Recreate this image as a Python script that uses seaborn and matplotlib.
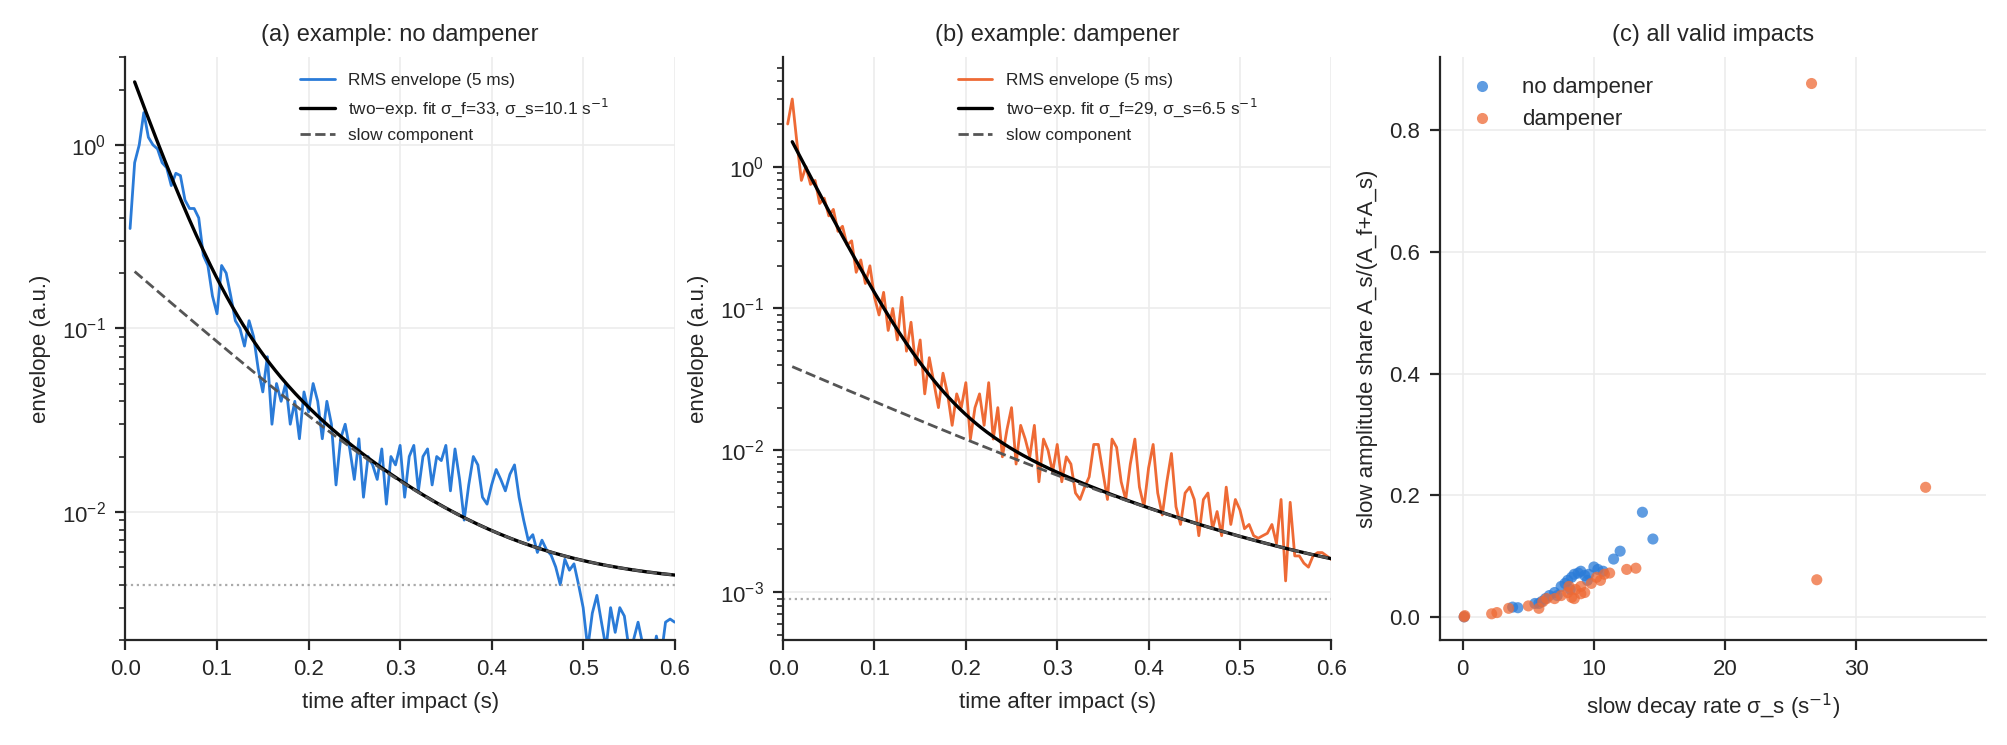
import numpy as np
import matplotlib
matplotlib.use("Agg")
import matplotlib.pyplot as plt
import seaborn as sns
import pandas as pd

sns.set_style("ticks")
plt.rcParams['font.family'] = ['Liberation Sans', 'DejaVu Sans']

t_env = np.round(np.arange(1, 121) * 0.005, 3)
env_a = [0.35,0.8,1.0,1.5,1.1,1.0,0.95,0.8,0.75,0.6,0.7,0.68,0.5,0.45,0.45,0.4,0.25,0.22,0.15,0.12,
         0.22,0.2,0.15,0.11,0.1,0.08,0.11,0.09,0.06,0.045,0.07,0.03,0.05,0.04,0.05,0.03,0.04,0.025,0.045,0.035,
         0.05,0.04,0.025,0.04,0.03,0.014,0.025,0.03,0.022,0.015,0.025,0.012,0.02,0.018,0.015,0.022,0.011,0.02,0.018,0.023,
         0.012,0.02,0.023,0.013,0.02,0.022,0.014,0.02,0.019,0.023,0.013,0.022,0.015,0.009,0.014,0.02,0.018,0.012,0.011,0.014,
         0.017,0.015,0.013,0.016,0.018,0.012,0.009,0.007,0.0075,0.006,0.007,0.0062,0.0058,0.005,0.004,0.0055,0.0048,0.0052,0.004,0.003,
         0.0018,0.0028,0.0035,0.0025,0.0018,0.003,0.0022,0.003,0.0027,0.0018,0.002,0.0025,0.0019,0.0018,0.0015,0.0021,0.0016,0.0025,0.0026,0.0025]
env_b = [2.0,3.0,1.5,0.8,1.0,0.75,0.8,0.55,0.6,0.45,0.5,0.35,0.38,0.28,0.3,0.18,0.22,0.15,0.2,0.12,
         0.09,0.13,0.07,0.1,0.06,0.12,0.05,0.08,0.04,0.06,0.025,0.045,0.03,0.02,0.035,0.025,0.015,0.025,0.02,0.03,
         0.012,0.02,0.025,0.015,0.03,0.012,0.02,0.009,0.014,0.02,0.008,0.015,0.012,0.009,0.015,0.006,0.012,0.01,0.007,0.011,
         0.006,0.009,0.008,0.005,0.0045,0.0055,0.0065,0.011,0.011,0.007,0.0045,0.012,0.0105,0.006,0.0045,0.008,0.012,0.0055,0.004,0.0075,
         0.011,0.005,0.0035,0.006,0.0095,0.004,0.003,0.005,0.0055,0.0045,0.0025,0.0045,0.005,0.0028,0.0037,0.0025,0.0055,0.003,0.0045,0.0038,
         0.0028,0.003,0.0025,0.0024,0.0025,0.0026,0.003,0.0022,0.0045,0.0012,0.0043,0.0018,0.0018,0.0016,0.0015,0.0018,0.0019,0.0019,0.0018,0.0017]

# fit parameters (A_f, sigma_f, A_s, sigma_s, floor)
fit_a = dict(Af=2.0, sf=33.0, As=0.2, ss=10.1, floor=0.004)
fit_b = dict(Af=1.46, sf=29.0, As=0.038, ss=6.5, floor=0.0009)

nod_x = [0.1,3.8,4.2,5.5,5.8,6.0,6.3,6.6,7.0,7.2,7.5,7.8,8.0,8.2,8.3,8.5,8.8,9.0,9.3,9.5,9.6,10.0,10.3,10.7,11.5,12.0,13.7,14.5]
nod_y = [0.0,0.016,0.015,0.022,0.022,0.025,0.03,0.035,0.04,0.035,0.05,0.055,0.06,0.045,0.065,0.07,0.072,0.075,0.068,0.06,0.07,0.082,0.078,0.075,0.095,0.108,0.172,0.128]
dam_x = [0.1,0.15,2.2,2.6,3.5,5.0,5.8,6.1,6.4,7.0,7.5,8.0,8.1,8.3,8.5,8.6,9.0,9.0,9.3,9.8,10.2,10.5,10.8,11.2,12.5,13.2,26.6,27.0,35.3]
dam_y = [0.0,0.002,0.005,0.007,0.014,0.018,0.014,0.025,0.03,0.03,0.035,0.04,0.05,0.032,0.03,0.045,0.038,0.05,0.04,0.055,0.065,0.06,0.07,0.072,0.078,0.08,0.877,0.061,0.213]

BLUE = "#2a7bd8"
ORANGE = "#ee6a35"

fig = plt.figure(figsize=(10.04, 3.725), dpi=200)
axes = [fig.add_axes([0.0625, 0.141, 0.2735, 0.782]),
        fig.add_axes([0.390, 0.141, 0.273, 0.782]),
        fig.add_axes([0.717, 0.141, 0.272, 0.782])]

tf = np.linspace(0.01, 0.6, 300)
for ax, env, fit, col, title, ylim, lab in [
    (axes[0], env_a, fit_a, BLUE, "(a) example: no dampener", (0.002, 3.0), "two\u2212exp. fit σ_f=33, σ_s=10.1 s$^{-1}$"),
    (axes[1], env_b, fit_b, ORANGE, "(b) example: dampener", (0.00046, 5.9), "two\u2212exp. fit σ_f=29, σ_s=6.5 s$^{-1}$")]:
    slow = fit['As'] * np.exp(-fit['ss'] * (tf - 0.01)) + fit['floor']
    total = fit['Af'] * np.exp(-fit['sf'] * (tf - 0.01)) + slow
    sns.lineplot(x=t_env, y=env, ax=ax, color=col, lw=1.0, label="RMS envelope (5 ms)")
    sns.lineplot(x=tf, y=total, ax=ax, color="black", lw=1.2, label=lab)
    sns.lineplot(x=tf, y=slow, ax=ax, color="#555555", lw=1.0, ls="--", label="slow component")
    ax.axhline(fit['floor'], color="#aaaaaa", lw=0.8, ls=":")
    ax.set_yscale("log")
    ax.set_xlim(0, 0.6)
    ax.set_ylim(*ylim)
    ax.set_xlabel("time after impact (s)", fontsize=8)
    ax.set_ylabel("envelope (a.u.)", fontsize=8)
    ax.set_title(title, fontsize=8.5)
    ax.grid(True, color="#ececec", lw=0.6)
    ax.legend(frameon=False, fontsize=6.2, loc="upper left", bbox_to_anchor=(0.29, 1.0))

ax = axes[2]
df = pd.DataFrame({"x": nod_x + dam_x, "y": nod_y + dam_y,
                   "g": ["no dampener"] * len(nod_x) + ["dampener"] * len(dam_x)})
sns.scatterplot(data=df, x="x", y="y", hue="g", palette={"no dampener": BLUE, "dampener": ORANGE},
                s=16, alpha=0.75, edgecolor="none", ax=ax)
ax.set_xlim(-1.76, 39.9)
ax.set_ylim(-0.038, 0.92)
ax.set_xticks([0, 10, 20, 30])
ax.set_yticks([0.0, 0.2, 0.4, 0.6, 0.8])
ax.set_xlabel("slow decay rate σ_s (s$^{-1}$)", fontsize=8)
ax.set_ylabel("slow amplitude share A_s/(A_f+A_s)", fontsize=8)
ax.set_title("(c) all valid impacts", fontsize=8.5)
ax.grid(True, color="#ececec", lw=0.6)
ax.legend(frameon=False, fontsize=8, loc="upper left", title=None)

for a in axes:
    sns.despine(ax=a)
    a.tick_params(labelsize=8)

fig.savefig("out.png", dpi=200)
